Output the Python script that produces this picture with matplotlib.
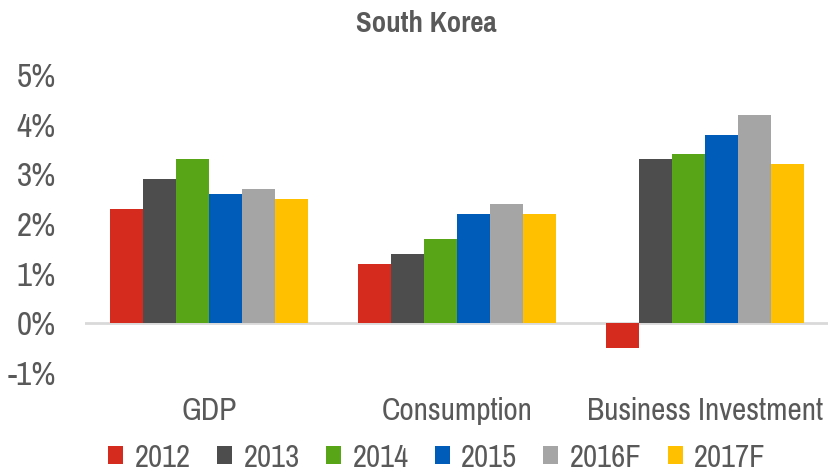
import matplotlib
matplotlib.use('Agg')
import matplotlib.pyplot as plt
import numpy as np

plt.rcParams['font.family'] = ['Pragati Narrow', 'Liberation Sans', 'DejaVu Sans']

# Growth rates (%) by category and year
categories = ['GDP', 'Consumption', 'Business Investment']
years = ['2012', '2013', '2014', '2015', '2016F', '2017F']
gdp = [2.3, 2.9, 3.3, 2.6, 2.7, 2.5]
consumption = [1.2, 1.4, 1.7, 2.2, 2.4, 2.2]
business_investment = [-0.5, 3.3, 3.4, 3.8, 4.2, 3.2]
colors = ['#D52B1E', '#4D4D4D', '#58A618', '#005CB9', '#A5A5A5', '#FFC000']

values = np.array([gdp, consumption, business_investment])  # rows: category, cols: year
text_color = '#595959'

fig = plt.figure(figsize=(8.29, 4.74), dpi=100)
ax = fig.add_axes([0.1025, 0.213, 0.8975, 0.629])

x = np.arange(len(categories))
n = len(years)
width = 0.8 / n
for i, year in enumerate(years):
    offs = (i - (n - 1) / 2) * width
    ax.bar(x + offs, values[:, i], width, color=colors[i], label=year, zorder=2)

ax.axhline(0, color='#D9D9D9', lw=2, zorder=1)
ax.set_xlim(-0.5, 2.5)
ax.set_ylim(-1, 5)
ax.set_yticks(range(-1, 6))
ax.set_yticklabels([f'{v}%' for v in range(-1, 6)])
ax.set_xticks(x)
ax.set_xticklabels(categories)
for s in ax.spines.values():
    s.set_visible(False)
ax.tick_params(axis='both', length=0, colors=text_color)
ax.tick_params(axis='y', labelsize=26, pad=21)
ax.tick_params(axis='x', labelsize=24.5, pad=17)

fig.text(426 / 829, 1 - 23 / 474, 'South Korea', ha='center', va='center',
         fontsize=22.5, fontweight='bold', color=text_color)

fig.legend(loc='center', bbox_to_anchor=(437 / 829, 1 - 458 / 474), ncol=n,
           frameon=False, fontsize=24, handlelength=0.45, handleheight=0.45,
           handletextpad=0.35, columnspacing=0.78, labelcolor=text_color)

fig.savefig('out.png', dpi=100)
